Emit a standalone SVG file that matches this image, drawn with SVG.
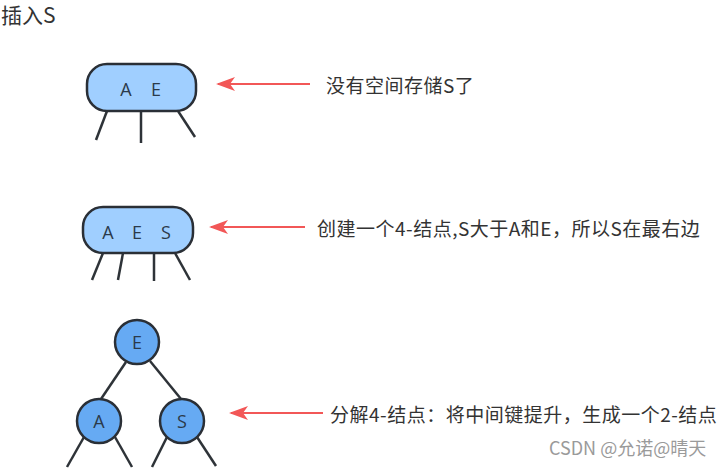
<svg xmlns="http://www.w3.org/2000/svg" width="725" height="470" viewBox="0 0 725 470">
<defs>
<marker id="ah" viewBox="0 0 19 14" refX="17" refY="7" markerWidth="19" markerHeight="14" markerUnits="userSpaceOnUse" orient="auto">
<path d="M19,7 L0,0 L5,7 L0,14 Z" fill="#f25757"/>
</marker>
</defs>
<style>
.t{font-family:"Microsoft YaHei","Noto Sans CJK SC","Liberation Sans",sans-serif;fill:#333}
.lbl{font-size:19px;letter-spacing:0.5px;dominant-baseline:central}
.k{font-family:"Open Sans","Liberation Sans",sans-serif;font-size:18px;fill:#2b3a4a;text-anchor:middle;dominant-baseline:central}
.box{fill:#a0cfff;stroke:#2a2f36;stroke-width:2.5}
.cir{fill:#66aaf3;stroke:#2a2f36;stroke-width:2.5}
.leg{stroke:#2e3338;stroke-width:2.5;fill:none}
.arr{stroke:#f25757;stroke-width:2;fill:none}
</style>
<rect width="725" height="470" fill="#fff"/>
<text class="t" x="1" y="23" font-size="21">插入S</text>

<g id="connectors">
<line class="arr" x1="310" y1="84" x2="218" y2="84" marker-end="url(#ah)"/>
<line class="arr" x1="305" y1="227" x2="211" y2="227" marker-end="url(#ah)"/>
<line class="arr" x1="323" y1="413" x2="231" y2="413" marker-end="url(#ah)"/>
<line class="leg" x1="126" y1="362" x2="101" y2="399"/>
<line class="leg" x1="150" y1="361" x2="181" y2="399"/>
<line class="leg" x1="84" y1="437" x2="67" y2="467"/>
<line class="leg" x1="115" y1="437" x2="132" y2="467"/>
<line class="leg" x1="167" y1="437" x2="152" y2="467"/>
<line class="leg" x1="197" y1="437" x2="216" y2="466"/>
</g>

<g id="node-ae">
<line class="leg" x1="107" y1="111" x2="96" y2="140"/>
<line class="leg" x1="141" y1="111" x2="141" y2="143"/>
<line class="leg" x1="178" y1="111" x2="195" y2="137"/>
<rect class="box" x="87" y="64" width="109" height="47" rx="20"/>
<text class="k" x="126" y="89">A</text>
<text class="k" x="156" y="89">E</text>
</g>

<g id="node-aes">
<line class="leg" x1="103" y1="253" x2="92" y2="280"/>
<line class="leg" x1="123" y1="253" x2="118" y2="280"/>
<line class="leg" x1="154" y1="253" x2="154" y2="281"/>
<line class="leg" x1="175" y1="253" x2="190" y2="280"/>
<rect class="box" x="83" y="207" width="110" height="46" rx="20"/>
<text class="k" x="108" y="232">A</text>
<text class="k" x="137" y="232">E</text>
<text class="k" x="166" y="232">S</text>
</g>

<g id="node-e">
<circle class="cir" cx="137" cy="342" r="22"/>
<text class="k" x="137" y="342">E</text>
</g>
<g id="node-a">
<circle class="cir" cx="99" cy="421" r="22"/>
<text class="k" x="99" y="421">A</text>
</g>
<g id="node-s">
<circle class="cir" cx="182" cy="421" r="22"/>
<text class="k" x="182" y="421">S</text>
</g>

<g id="labels">
<text class="t lbl" x="326" y="84">没有空间存储S了</text>
<text class="t lbl" x="317" y="227">创建一个4-结点,S大于A和E，所以S在最右边</text>
<text class="t lbl" x="330" y="413">分解4-结点：将中间键提升，生成一个2-结点</text>
</g>
<text x="549" y="447" font-family="&quot;Noto Sans CJK SC&quot;,&quot;Liberation Sans&quot;,sans-serif" font-size="18" fill="#9a9a9a" dominant-baseline="central">CSDN @允诺@晴天</text>
</svg>
